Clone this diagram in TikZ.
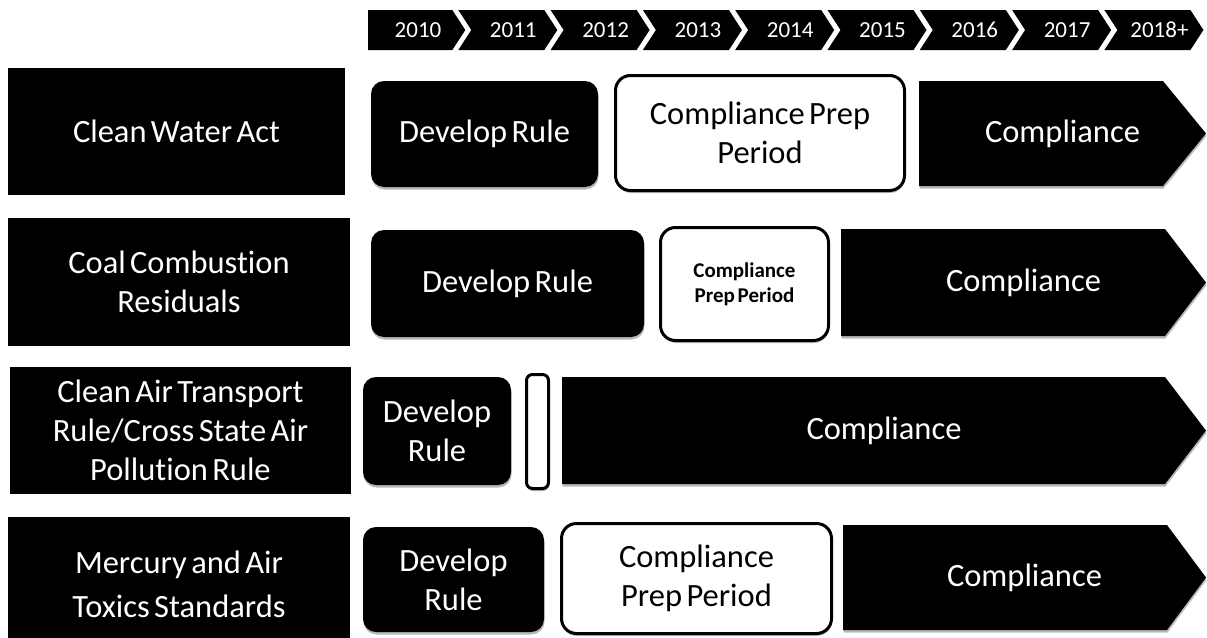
\documentclass[tikz,border=0pt]{standalone}
\usepackage{fontspec}
\setmainfont{Carlito}[Ligatures=NoCommon, WordSpace=0.6]
\usetikzlibrary{shadows}
\begin{document}
\begin{tikzpicture}[x=1pt,y=-1pt,
  big/.style={font=\fontsize{32.5}{39}\selectfont},
  lbl/.style={big, fill=black, text=white, inner sep=0pt, align=center},
  devbox/.style={big, fill=black, text=white, rounded corners=13pt, inner sep=0pt, align=center,
    drop shadow={shadow xshift=0.5pt, shadow yshift=-2.5pt, fill=black!28, opacity=1}},
  prepbox/.style={big, draw=black, line width=3pt, fill=white, rounded corners=15pt, inner sep=0pt, align=center,
    drop shadow={shadow xshift=0.5pt, shadow yshift=-2.5pt, fill=black!28, opacity=1}},
  arrowtxt/.style={big, text=white, inner sep=0pt},
  yeartxt/.style={text=white, font=\fontsize{23}{26}\selectfont, inner sep=0pt},
  chev/.style={fill=black},
  softshadow/.style={fill=black!28}
]
\useasboundingbox (0,0) rectangle (1207,637);

% ---------- timeline ----------
\fill[chev] (368,10) -- (452.3,10) -- (465.3,30) -- (452.3,50) -- (368,50) -- cycle;
\node[yeartxt] (yr0) at (418,30) {2010};
\foreach \k/\yr in {1/2011,2/2012,3/2013,4/2014,5/2015,6/2016,7/2017,8/2018+}{
  \pgfmathsetmacro\c{366+92.3*\k}
  \fill[chev] (\c,10) -- (\c+86,10) -- (\c+99,30) -- (\c+86,50) -- (\c,50) -- (\c+13,30) -- cycle;
  \node[yeartxt] (yr\k) at (\c+55,30) {\yr};
}

% ---------- left labels ----------
\node[lbl, minimum width=337pt, minimum height=127pt] (lab1) at (176.5,131.5) {Clean Water Act};
\node[lbl, minimum width=342pt, minimum height=128pt] (lab2) at (179,282) {Coal Combustion\\Residuals};
\node[lbl, minimum width=341pt, minimum height=127pt] (lab3) at (180.5,430.5) {Clean Air Transport\\Rule/Cross State Air\\Pollution Rule};
\node[lbl, minimum width=342pt, minimum height=135pt] (lab4) at (179,584.5) {Mercury and Air\\[5pt]Toxics Standards};

% ---------- compliance arrows ----------
\newcommand\comparrow[5]{%
  \fill[softshadow, yshift=-2.5pt, xshift=0.5pt] (#2,#4) -- (#3,#4) -- (1206,{(#4+#5)/2}) -- (#3,#5) -- (#2,#5) -- cycle;
  \fill[black] (#2,#4) -- (#3,#4) -- (1206,{(#4+#5)/2}) -- (#3,#5) -- (#2,#5) -- cycle;
  \node[arrowtxt] (#1) at ({(#2+1206)/2},{(#4+#5)/2}) {Compliance};
}

% Row 1
\node[devbox, minimum width=227pt, minimum height=106pt] (dev1) at (484.5,134) {Develop Rule};
\node[prepbox, minimum width=289pt, minimum height=115pt] (prep1) at (760,133) {Compliance Prep\\Period};
\comparrow{comp1}{919}{1163}{81}{186}

% Row 2
\node[devbox, minimum width=273pt, minimum height=107pt] (dev2) at (507.5,283.5) {Develop Rule};
\node[prepbox, minimum width=168pt, minimum height=113pt, font=\fontsize{21}{25}\selectfont\bfseries] (prep2) at (744.5,284) {Compliance\\Prep Period};
\comparrow{comp2}{841}{1165}{229}{336}

% Row 3
\node[devbox, minimum width=148pt, minimum height=108pt] (dev3) at (437,431) {Develop\\Rule};
\node[prepbox, minimum width=22pt, minimum height=114pt, rounded corners=6pt] (prep3) at (537.5,431.5) {};
\comparrow{comp3}{562}{1165}{377}{484}

% Row 4
\node[devbox, minimum width=181pt, minimum height=105pt] (dev4) at (453.5,579.5) {Develop\\Rule};
\node[prepbox, minimum width=270pt, minimum height=110pt] (prep4) at (696.5,578.5) {Compliance\\Prep Period};
\comparrow{comp4}{843}{1167}{525}{630}
\end{tikzpicture}
\end{document}
